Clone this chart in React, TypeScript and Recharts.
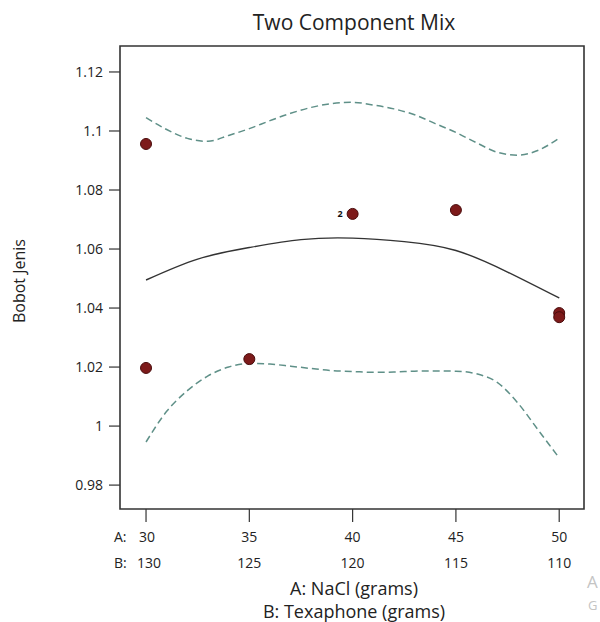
import React from "react";
import {
  ComposedChart,
  Line,
  Scatter,
  XAxis,
  YAxis,
  ReferenceArea,
} from "recharts";

// tick labels
const aTicks = [30, 35, 40, 45, 50];
const bTicks = [130, 125, 120, 115, 110];
const yTicks = [0.98, 1, 1.02, 1.04, 1.06, 1.08, 1.1, 1.12];

// fitted curve
const fitA = [30, 32.5, 35, 37.5, 40, 42.5, 45, 47.5, 50];
const fitY = [1.0495, 1.0566, 1.0605, 1.0632, 1.0637, 1.0625, 1.0595, 1.0522, 1.0434];

// confidence band
const bandA = [30, 31, 32, 33, 34, 35, 36, 37, 38, 39, 40, 41, 42, 43, 44, 45, 46, 47, 48, 49, 50];
const upperY = [
  1.1045, 1.1005, 1.0975, 1.0965, 1.0985, 1.1008, 1.1035, 1.106, 1.108, 1.1093, 1.1097,
  1.1088, 1.1075, 1.1055, 1.1025, 1.0995, 1.096, 1.0928, 1.0918, 1.0935, 1.0976,
];
const lowerY = [
  0.9946, 1.005, 1.012, 1.017, 1.02, 1.0212, 1.021, 1.0203, 1.0195, 1.0188, 1.0185,
  1.0182, 1.0183, 1.0186, 1.0187, 1.0186, 1.0177, 1.0148, 1.0078, 0.9985, 0.9892,
];

// design points (n = replicate count)
const pointA = [30, 30, 35, 40, 45, 50, 50];
const pointY = [1.0956, 1.0197, 1.0227, 1.0719, 1.0732, 1.0383, 1.0369];
const pointN = [1, 1, 1, 2, 1, 1, 1];

const xDomain = [28.74, 51.2];
const yDomain = [0.9719, 1.1288];

const fitData = fitA.map((a, i) => ({ a, y: fitY[i] }));
const upperData = bandA.map((a, i) => ({ a, y: upperY[i] }));
const lowerData = bandA.map((a, i) => ({ a, y: lowerY[i] }));
const points = pointA.map((a, i) => ({ a, y: pointY[i], n: pointN[i] }));

const textColor = "#222";
const bandColor = "#5f9088";

const XTick = (props: any) => {
  const { x, y, payload } = props;
  const i = aTicks.indexOf(payload.value);
  return (
    <g fontSize={14} fill={textColor}>
      {i === 0 && (
        <>
          <text x={x - 32} y={y + 20} textAnchor="start" fill={textColor}>A:</text>
          <text x={x - 32} y={y + 46} textAnchor="start" fill={textColor}>B:</text>
        </>
      )}
      <text x={i === 0 ? x + 1 : x} y={y + 20} textAnchor="middle" fill={textColor}>
        {payload.value}
      </text>
      <text x={i === 0 ? x + 3 : x} y={y + 46} textAnchor="middle" fill={textColor}>
        {bTicks[i]}
      </text>
    </g>
  );
};

const Dot = (props: any) => {
  const { cx, cy, payload } = props;
  return (
    <g>
      <circle cx={cx} cy={cy} r={5.5} fill="#7d1a1a" stroke="#4a0c0c" strokeWidth={1} />
      {payload.n > 1 && (
        <text x={cx - 10} y={cy + 3} fontSize={9} fontWeight="bold" textAnchor="end" fill="#111">
          {payload.n}
        </text>
      )}
    </g>
  );
};

const abs = (left: number, top: number, extra: any = {}) => ({
  position: "absolute" as const,
  left,
  top,
  transform: "translate(-50%, -50%)",
  whiteSpace: "nowrap" as const,
  lineHeight: 1,
  color: textColor,
  ...extra,
});

export default function App() {
  return (
    <div
      style={{
        position: "absolute",
        left: 0,
        top: 0,
        width: 600,
        height: 622,
        overflow: "hidden",
        background: "#fff",
        fontFamily: "'Open Sans', sans-serif",
      }}
    >
      <ComposedChart width={600} height={622} margin={{ top: 46, right: 16, bottom: 0, left: 0 }}>
        <XAxis
          type="number"
          dataKey="a"
          domain={xDomain}
          ticks={aTicks}
          interval={0}
          allowDataOverflow
          axisLine={false}
          tickSize={13}
          tickLine={{ stroke: "#333", strokeWidth: 1.2 }}
          tickMargin={0}
          height={113}
          tick={<XTick />}
        />
        <YAxis
          type="number"
          dataKey="y"
          domain={yDomain}
          ticks={yTicks}
          interval={0}
          allowDataOverflow
          axisLine={false}
          width={120}
          tickSize={11}
          tickMargin={6}
          tickLine={{ stroke: "#333", strokeWidth: 1.2 }}
          tick={{ fontSize: 14, fill: textColor }}
          tickFormatter={(v: number) => String(v)}
        />
        <ReferenceArea
          x1={xDomain[0]}
          x2={xDomain[1]}
          y1={yDomain[0]}
          y2={yDomain[1]}
          fill="none"
          fillOpacity={0}
          stroke="#333"
          strokeWidth={1.6}
        />
        <Line
          data={upperData}
          dataKey="y"
          type="monotone"
          stroke={bandColor}
          strokeWidth={1.5}
          strokeDasharray="7 4"
          dot={false}
          activeDot={false}
          isAnimationActive={false}
        />
        <Line
          data={lowerData}
          dataKey="y"
          type="monotone"
          stroke={bandColor}
          strokeWidth={1.5}
          strokeDasharray="7 4"
          dot={false}
          activeDot={false}
          isAnimationActive={false}
        />
        <Line
          data={fitData}
          dataKey="y"
          type="natural"
          stroke="#333"
          strokeWidth={1.4}
          dot={false}
          activeDot={false}
          isAnimationActive={false}
        />
        <Scatter data={points} dataKey="y" shape={<Dot />} isAnimationActive={false} />
      </ComposedChart>

      <div style={abs(354, 22, { fontSize: 21 })}>Two Component Mix</div>
      <div style={abs(354, 588, { fontSize: 18 })}>A: NaCl (grams)</div>
      <div style={abs(354, 611, { fontSize: 18 })}>B: Texaphone (grams)</div>
      <div style={abs(19, 281, { fontSize: 16, transform: "translate(-50%, -50%) rotate(-90deg)" })}>
        Bobot Jenis
      </div>
      <div style={{ position: "absolute", left: 587, top: 573, fontSize: 17, color: "#c4c4c4", lineHeight: 1 }}>
        A
      </div>
      <div style={{ position: "absolute", left: 588, top: 599, fontSize: 13, color: "#c4c4c4", lineHeight: 1 }}>
        G
      </div>
    </div>
  );
}
